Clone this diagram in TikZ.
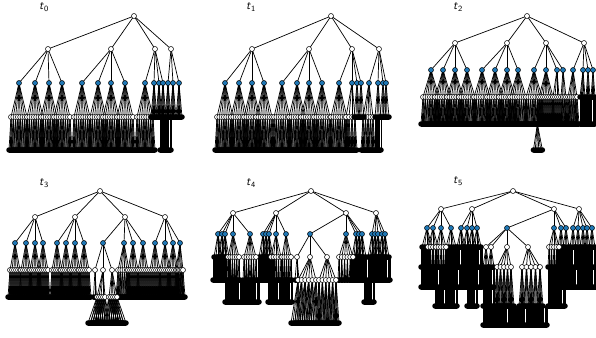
\documentclass[tikz,border=0pt]{standalone}
\definecolor{nxblue}{RGB}{31,119,180}
\tikzset{
 nd/.style={circle,draw=black,line width=0.5pt,inner sep=0pt,minimum size=5pt},
 wn/.style={nd,fill=white},
 bl/.style={nd,fill=nxblue},
 lf/.style={nd,fill=black},
 edge/.style={draw=black,line width=0.7pt},
 leafbar/.style={fill=black,rounded corners=2.75pt},
 lbl/.style={font={\sffamily\large},inner sep=0pt}
}
\newif\ifedges
% pass 1 (edges) draws connectors, pass 2 draws nodes and leaf rows
\newcommand\kid[5]{\ifedges\coordinate (#2) at (#3,#4);\draw[edge] (#1) -- (#2);%
 \else\edef\kidtmp{\noexpand\node[#5] (#2) at (#3,#4) {};}\kidtmp\fi}
\newcommand\rootn[3]{\ifedges\coordinate (#1) at (#2,#3);\else\node[wn] (#1) at (#2,#3) {};\fi}
% #2 named children of #1 from x+#3 to x+#4 at y=#5, style #6
\newcommand\kids[6]{%
 \pgfpointanchor{#1}{center}\pgfgetlastxy\kpx\kpy
 \pgfmathsetmacro\kpxx{\kpx}%
 \foreach \j in {1,...,#2}{%
  \pgfmathsetmacro\kxb{\kpxx+(#3)+((#4)-(#3))*(\j-1)/max(#2-1,1)}%
  \kid{#1}{#1-\j}{\kxb}{#5}{#6}}}
\newcommand\kidsat[4]{\foreach \x [count=\c] in {#4}{\kid{#1}{#1-\c}{\x}{#2}{#3}}}
% leaf row: #2 black leaves of node #1 from x+#3 to x+#4 at y=#5
\newcommand\fan[5]{%
 \pgfpointanchor{#1}{center}\pgfgetlastxy\kpx\kpy
 \pgfmathsetmacro\kpxx{\kpx}%
 \ifedges
  \foreach \j in {1,...,#2}{\draw[edge] (#1) -- ({\kpxx+(#3)+((#4)-(#3))*(\j-1)/max(#2-1,1)},#5);}%
 \else
  \fill[leafbar] ({\kpxx+(#3)-2.75},#5-2.75) rectangle ({\kpxx+(#4)+2.75},#5+2.75);%
 \fi}
\newcommand\fanall[6]{\foreach \i in {1,...,#2}{\fan{#1-\i}{#3}{#4}{#5}{#6}}}
% columns of leaves from x0..x1, row y0 down to row y1 (#3 unused)
\newcommand\colbar[5]{%
 \ifedges
  \pgfmathtruncatemacro\ncol{max(2,(#2-#1)/1.05+1)}%
  \foreach \j in {1,...,\ncol}{\draw[edge] ({#1+(#2-#1)*(\j-1)/(\ncol-1)},#4) -- ++(0,#5-#4);}%
 \else
  \fill[leafbar] (#1-2.75,#5-2.75) rectangle (#2+2.75,#5+2.75);%
 \fi}
% white groups: list parent/n/dl/dr ; #2 y3 ; #3 n4 ; #4 dl4 ; #5 dr4 ; #6 y4
\newcommand\grpw[6]{\foreach \b/\nn/\dla/\dra in {#1}{\kids{\b}{\nn}{\dla}{\dra}{#2}{wn}\fanall{\b}{\nn}{#3}{#4}{#5}{#6}}}
\newcommand\allpanels{%
% ---------------- t0
\rootn{a}{134}{16}
\kidsat{a}{49}{wn}{48,111,155,171}
\kidsat{a-1}{83}{bl}{19,35,49,62}
\kidsat{a-2}{83}{bl}{82,98,111,125}
\kidsat{a-3}{83}{bl}{145,154,159,163}
\kidsat{a-4}{83}{bl}{168,173,179}
\grpw{a-1-1/8/-8/8,a-1-2/8/-8/8,a-1-3/8/-8/8,a-1-4/8/-8/8,a-2-1/8/-8/8,a-2-2/8/-8/8,a-2-3/8/-8/8,a-2-4/8/-8/8,a-3-1/8/-8/8}{117}{4}{-2}{2}{150}
\foreach \b in {a-3-2,a-3-3,a-3-4,a-4-1,a-4-2,a-4-3}{\fan{\b}{6}{-3}{3}{117}}
\colbar{160}{171}{8}{117}{150}
% ---------------- t1
\rootn{b}{331}{16}
\kidsat{b}{49}{wn}{252,309,352,379}
\kidsat{b-1}{83}{bl}{225,239,252,264}
\kidsat{b-2}{83}{bl}{282,297,309,322}
\kidsat{b-3}{83}{bl}{339,352,357,361}
\kidsat{b-4}{83}{bl}{369,378,383,386}
\grpw{b-1-1/8/-8/8,b-1-2/8/-8/8,b-1-3/8/-8/8,b-1-4/8/-8/8,b-2-1/8/-8/8,b-2-2/8/-8/8,b-2-3/8/-8/8,b-2-4/8/-8/8,b-3-1/8/-8/8,b-3-2/4/-6/3,b-4-1/5/-6/4}{117}{4}{-2}{2}{150}
\foreach \b in {b-3-3,b-3-4,b-4-2,b-4-3,b-4-4}{\fan{\b}{4}{-3}{3}{117}}
\colbar{375}{381}{4}{117}{150}
% ---------------- t2
\rootn{c}{527}{16}
\kidsat{c}{43}{wn}{455,507,546,584}
\kidsat{c-1}{70}{bl}{431,443,455,467}
\kidsat{c-2}{70}{bl}{482,495,507,518}
\kidsat{c-3}{70}{bl}{534,546,557,563}
\kidsat{c-4}{70}{bl}{573,583,588,593}
\grpw{c-1-1/8/-8/8,c-1-2/8/-8/8,c-1-3/8/-8/8,c-1-4/8/-8/8,c-2-1/8/-8/8,c-2-2/8/-8/8,c-2-3/8/-8/8,c-2-4/8/-8/8,c-3-1/8/-8/8,c-3-2/8/-7/7,c-3-3/4/-4/2,c-3-4/4/-2/3,c-4-1/6/-5/4}{97}{4}{-2}{2}{124}
\fan{c-4-2}{5}{-3}{2}{97}
\fan{c-4-3}{4}{-2}{2}{97}
\fan{c-4-4}{4}{-2}{2}{97}
\colbar{580}{595}{10}{97}{124}
\kid{c-3-1-6}{c-x}{537.4}{124}{lf}
\fan{c-x}{6}{-4}{5}{150}
% ---------------- t3
\rootn{d}{100}{191}
\kidsat{d}{217}{wn}{35,75,125,165}
\kidsat{d-1}{243}{bl}{15,26,35,43}
\kidsat{d-2}{243}{bl}{57,66,75,84}
\kidsat{d-3}{243}{bl}{103,124,133,143}
\kidsat{d-4}{243}{bl}{155,165,173,180}
\grpw{d-1-1/6/-5/5,d-1-2/6/-5/5,d-1-3/6/-5/5,d-1-4/6/-5/5,d-2-1/6/-5/5,d-2-2/6/-5/5,d-2-3/6/-5/5,d-2-4/6/-5/5,d-3-2/6/-6/5,d-3-3/6/-5/5,d-3-4/6/-5/5,d-4-1/6/-5/5,d-4-2/6/-5/5,d-4-3/6/-5/5,d-4-4/6/-4/3}{270}{4}{-2}{2}{297}
\kidsat{d-3-1}{270}{wn}{95,103,112}
\fan{d-3-1-1}{3}{-1.5}{1.5}{297}
\kids{d-3-1-2}{5}{-6}{2}{297}{wn}
\kids{d-3-1-3}{5}{-3}{5}{297}{wn}
\fanall{d-3-1-2}{5}{6}{-9}{5}{323}
\fanall{d-3-1-3}{5}{6}{-5}{9}{323}
% ---------------- t4
\rootn{e}{311}{191}
\kidsat{e}{213}{wn}{233,276,346,376}
\kidsat{e-1}{234}{bl}{218,222,225,233,250}
\kidsat{e-2}{234}{bl}{263,266,269,276,286}
\kidsat{e-3}{234}{bl}{310,346,356,359,362}
\kidsat{e-4}{234}{bl}{372,375,378,382,385}
\foreach \b in {e-1-1,e-1-2,e-1-3,e-2-1,e-2-2,e-2-3,e-3-3,e-3-4,e-3-5,e-4-1,e-4-2,e-4-3,e-4-4,e-4-5}{\fan{\b}{5}{-4}{4}{257}}
\grpw{e-1-4/6/-5/6,e-1-5/6/-6/6,e-2-4/5/-5/5,e-2-5/5/-4/5,e-3-2/6/-7/7}{257}{3}{-1}{1}{280}
\colbar{213}{230}{12}{257}{280}
\colbar{258}{274}{12}{257}{280}
\colbar{351}{390}{28}{257}{280}
\colbar{225}{259}{24}{280}{302}
\colbar{268}{292}{18}{280}{302}
\colbar{364}{374}{6}{280}{302}
\kidsat{e-3-1}{257}{wn}{297,310,327}
\fan{e-3-1-1}{3}{-2}{2}{280}
\kids{e-3-1-2}{6}{-12}{6}{280}{wn}
\kids{e-3-1-3}{6}{-8}{9}{280}{wn}
\fanall{e-3-1-2}{6}{6}{-7}{3}{323}
\fanall{e-3-1-3}{6}{6}{-3}{3}{323}
% ---------------- t5
\rootn{f}{513}{191}
\kidsat{f}{209}{wn}{441,472,554,579}
\kidsat{f-1}{228}{bl}{427,433,441,451}
\kidsat{f-2}{228}{bl}{461,467,472,477}
\kidsat{f-3}{228}{bl}{507,554,561,566}
\kidsat{f-4}{228}{bl}{573,578,583,587,592}
\fan{f-1-1}{5}{-5}{5}{247}
\fan{f-1-4}{5}{-5}{5}{247}
\foreach \b in {f-2-1,f-2-2,f-2-3,f-2-4}{\fan{\b}{5}{-4}{4}{247}}
\foreach \b in {f-3-3,f-3-4,f-4-1,f-4-2,f-4-3,f-4-4,f-4-5}{\fan{\b}{4}{-3}{3}{247}}
\grpw{f-1-2/5/-5/5,f-1-3/5/-5/5,f-3-2/5/-5/5}{247}{3}{-1}{1}{267}
\colbar{421}{433}{8}{247}{267}
\colbar{445}{482}{24}{247}{267}
\colbar{557}{596}{26}{247}{267}
\colbar{421}{482}{40}{267}{287}
\colbar{562}{596}{22}{267}{287}
\colbar{435}{457}{14}{287}{306}
\colbar{467}{477}{6}{287}{306}
\colbar{548}{565}{12}{267}{306}
\kidsat{f-3-1}{247}{wn}{486,491,507,528}
\fan{f-3-1-1}{4}{-3}{3}{267}
\fan{f-3-1-2}{4}{-3}{3}{267}
\colbar{483}{494}{6}{267}{287}
\colbar{483}{494}{6}{287}{306}
\colbar{483}{494}{6}{306}{325}
\kids{f-3-1-3}{5}{-10}{4}{267}{wn}
\kids{f-3-1-4}{5}{-6}{12}{267}{wn}
\fanall{f-3-1-3}{5}{6}{-3}{3}{306}
\fanall{f-3-1-4}{5}{6}{-3}{3}{306}
\colbar{492}{547}{30}{306}{325}
}
\begin{document}
\begin{tikzpicture}[x=1pt,y=-1pt]
\useasboundingbox (0,0) rectangle (596,337);
\edgestrue\allpanels
\edgesfalse\allpanels
\node[lbl] (la) at (44,7) {\textit{t}\textsubscript{0}};
\node[lbl] (lb) at (251,7) {\textit{t}\textsubscript{1}};
\node[lbl] (lc) at (458,7) {\textit{t}\textsubscript{2}};
\node[lbl] (ld) at (44,183) {\textit{t}\textsubscript{3}};
\node[lbl] (le) at (251,183) {\textit{t}\textsubscript{4}};
\node[lbl] (lf5) at (458,181) {\textit{t}\textsubscript{5}};
\end{tikzpicture}
\end{document}
